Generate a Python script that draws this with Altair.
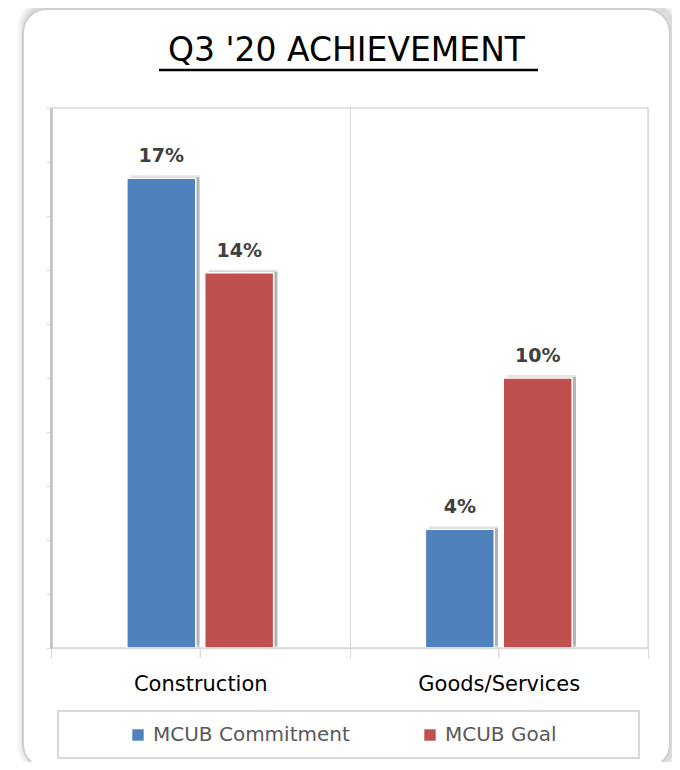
import altair as alt
import pandas as pd

# ---- data ----
categories = ["Construction", "Construction", "Goods/Services", "Goods/Services"]
series = ["MCUB Commitment", "MCUB Goal", "MCUB Commitment", "MCUB Goal"]
values = [0.174, 0.139, 0.044, 0.100]
category_order = ["Construction", "Goods/Services"]
series_order = ["MCUB Commitment", "MCUB Goal"]
series_colors = ["#4F81BD", "#C0504D"]
y_ticks = [0.0, 0.02, 0.04, 0.06, 0.08, 0.10, 0.12, 0.14, 0.16, 0.18, 0.20]
title_text = ["Q3 '20 ACHIEVEMENT"]

df = pd.DataFrame({"category": categories, "series": series, "value": values})
one = pd.DataFrame({"t": title_text})

W, H = 597, 540
FONT = "DejaVu Sans"

x_enc = alt.X(
    "category:N",
    sort=category_order,
    scale=alt.Scale(paddingInner=0, paddingOuter=0),
    axis=alt.Axis(
        title=None, tickBand="extent", tickSize=10, tickColor="#d9d9d9",
        domainColor="#d9d9d9", domainWidth=1.5, grid=True, gridColor="#d9d9d9",
        labelFontSize=21, labelColor="#000000", labelFont=FONT, labelPadding=15,
        labelAngle=0, labelAlign="center", labelBaseline="top", zindex=1,
    ),
)
xo_enc = alt.XOffset(
    "series:N", sort=series_order,
    scale=alt.Scale(paddingInner=0.115, paddingOuter=0.974),
)
xo_shadow = alt.XOffset(
    "series:N", sort=series_order,
    scale=alt.Scale(paddingInner=0.115, paddingOuter=0.974, align=0.525),
)
y_enc = alt.Y(
    "value:Q",
    scale=alt.Scale(domain=[0, 0.2], nice=False),
    axis=alt.Axis(
        title=None, values=y_ticks, labels=False, grid=False, tickSize=5,
        tickColor="#d9d9d9", domainColor="#bfbfbf", domainWidth=2.5, zindex=1,
    ),
)
color_enc = alt.Color(
    "series:N",
    scale=alt.Scale(domain=series_order, range=series_colors),
    legend=alt.Legend(
        title=None, orient="none", legendX=77, legendY=617, direction="horizontal",
        symbolType="square", symbolSize=130, symbolStrokeWidth=0,
        labelFontSize=20, labelColor="#595959", labelFont=FONT, labelLimit=0,
        columnPadding=70, labelOffset=5, padding=0,
    ),
)

# frame shadow (soft, several layers)
shadow_layers = []
for i, op in enumerate([0.05, 0.06, 0.08, 0.10]):
    g = 8 - 2 * i
    shadow_layers.append(
        alt.Chart(one).mark_rect(cornerRadius=24 + g, color="#7f7f7f", opacity=op).encode(
            x=alt.value(-28 + 2 - g), x2=alt.value(619 + 3 + g),
            y=alt.value(-99 - 4 - g), y2=alt.value(660 + g),
        )
    )
frame = alt.Chart(one).mark_rect(
    cornerRadius=24, fill="white", stroke="#d0d0d0", strokeWidth=2
).encode(x=alt.value(-28), x2=alt.value(619), y=alt.value(-99), y2=alt.value(660))

plot_border = alt.Chart(one).mark_rect(
    fill="white", stroke="#d9d9d9", strokeWidth=1.5
).encode(x=alt.value(0), x2=alt.value(W), y=alt.value(0), y2=alt.value(H))

legend_box = alt.Chart(one).mark_rect(
    fill="white", stroke="#d9d9d9", strokeWidth=2
).encode(x=alt.value(7), x2=alt.value(588), y=alt.value(603), y2=alt.value(650))

base = alt.Chart(df)

bar_shadow_outer = base.mark_bar(color="#000000", opacity=0.10, yOffset=-3).encode(
    x=x_enc, xOffset=xo_shadow, y=y_enc
)
bar_shadow = base.mark_bar(color="#000000", opacity=0.22, yOffset=-1).encode(
    x=x_enc, xOffset=xo_shadow, y=y_enc
)
shadows = alt.layer(bar_shadow_outer, bar_shadow)

bars = base.mark_bar(stroke="white", strokeWidth=1.5).encode(
    x=x_enc, xOffset=xo_enc, y=y_enc, color=color_enc
)
labels = base.mark_text(
    font=FONT, fontSize=19, fontWeight="bold", color="#404040",
    baseline="alphabetic", dy=-16,
).encode(
    x=x_enc, xOffset=xo_enc, y=y_enc,
    text=alt.Text("value:Q", format=".0%"),
)
main = alt.layer(bars, labels)

center_ticks = base.mark_rule(color="#d9d9d9", strokeWidth=1).encode(
    x=alt.X("category:N", sort=category_order), y=alt.value(H), y2=alt.value(H + 10)
)

title = alt.Chart(one).mark_text(
    font=FONT, fontSize=33, color="#000000", baseline="alphabetic", align="center"
).encode(x=alt.value(W / 2 - 3), y=alt.value(-47), text="t:N")
underline = alt.Chart(one).mark_rule(color="#000000", strokeWidth=2.5).encode(
    x=alt.value(108), x2=alt.value(487), y=alt.value(-38)
)

chart = alt.layer(
    *shadow_layers, frame, plot_border, legend_box, center_ticks,
    shadows, main, title, underline
).resolve_scale(
    xOffset="independent"
).properties(
    width=W, height=H,
    padding={"left": 43, "top": 100, "right": 24, "bottom": 114},
    autosize=alt.AutoSizeParams(type="none"),
    background="white",
).configure_view(
    stroke=None
)

chart.save("out.html", embed_options={"renderer": "svg", "actions": False})
